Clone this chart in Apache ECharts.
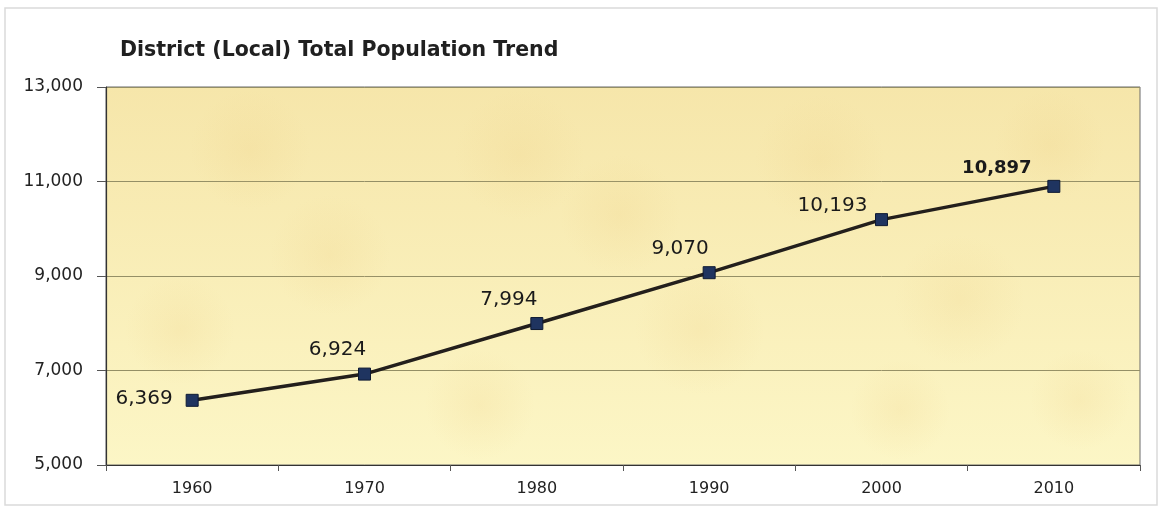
<!DOCTYPE html>
<html>
<head>
<meta charset="utf-8">
<style>
  html, body { margin: 0; padding: 0; background: #ffffff; }
  #chart { width: 1162px; height: 512px; }
</style>
<script src="https://cdn.jsdelivr.net/npm/echarts@6/dist/echarts.min.js"></script>
</head>
<body>
<div id="chart"></div>
<script>
// Census years and district population counts
const years = ['1960', '1970', '1980', '1990', '2000', '2010'];
const population = [6369, 6924, 7994, 9070, 10193, 10897];
const titleText = 'District (Local) Total Population Trend';

// Where each value label sits relative to its marker (px); the latest year is bold
const labelOffsets = [[-48, -2], [-27, -24], [-28, -24], [-29, -24], [-49, -14], [-57, -18]];

const fontFamily = '"DejaVu Sans", Verdana, sans-serif';
const fmt = v => Number(v).toLocaleString('en-US');

const chart = echarts.init(document.getElementById('chart'), null, { renderer: 'canvas' });

const seriesData = population.map((v, i) => {
  const last = i === population.length - 1;
  return {
    value: v,
    label: {
      show: true,
      position: 'inside',
      align: 'center',
      verticalAlign: 'middle',
      offset: labelOffsets[i],
      fontWeight: last ? 'bold' : 'normal',
      fontSize: last ? 18 : 20
    }
  };
});

// Soft warm patches giving the parchment-like plot backdrop (kept inside the plot frame)
const patches = [
  [250, 150, 60], [520, 155, 65], [820, 160, 65], [1050, 145, 55],
  [330, 255, 60], [700, 330, 65], [960, 300, 65], [180, 330, 55],
  [480, 405, 55], [900, 410, 50], [620, 215, 60], [1080, 400, 50]
].map(([cx, cy, r]) => ({
  type: 'circle',
  shape: { cx, cy, r },
  style: {
    fill: {
      type: 'radial', x: 0.5, y: 0.5, r: 0.5,
      colorStops: [
        { offset: 0, color: 'rgba(236, 200, 120, 0.16)' },
        { offset: 1, color: 'rgba(236, 200, 120, 0)' }
      ]
    }
  },
  silent: true,
  z: 1
}));

chart.setOption({
  backgroundColor: '#ffffff',
  animation: false,
  title: {
    text: titleText,
    left: 115,
    top: 35,
    textStyle: { fontFamily, fontSize: 20.5, fontWeight: 'bold', color: '#202020' }
  },
  graphic: [
    {
      type: 'rect',
      shape: { x: 5, y: 8, width: 1152, height: 497 },
      style: { fill: 'none', stroke: '#dadada', lineWidth: 1.5 },
      silent: true,
      z: -10
    }
  ].concat(patches),
  grid: {
    left: 106,
    right: 22,
    top: 87,
    bottom: 47,
    show: true,
    borderColor: '#6a6a6a',
    borderWidth: 1,
    backgroundColor: {
      type: 'linear', x: 0, y: 0, x2: 0, y2: 1,
      colorStops: [
        { offset: 0, color: '#f6e6aa' },
        { offset: 0.5, color: '#f9eeb8' },
        { offset: 1, color: '#fcf6c6' }
      ]
    }
  },
  xAxis: {
    type: 'category',
    data: years,
    boundaryGap: true,
    axisLine: { show: true, lineStyle: { color: '#333333', width: 1.2 } },
    axisTick: { show: true, length: 6, lineStyle: { color: '#555555' } },
    axisLabel: { fontFamily, fontSize: 16, color: '#222222', margin: 16 },
    splitLine: { show: false }
  },
  yAxis: {
    type: 'value',
    min: 5000,
    max: 13000,
    interval: 2000,
    axisLine: { show: true, lineStyle: { color: '#333333', width: 1.2 } },
    axisTick: { show: true, length: 9, lineStyle: { color: '#555555' } },
    axisLabel: {
      fontFamily, fontSize: 17, color: '#222222', margin: 23,
      formatter: fmt
    },
    splitLine: { show: true, lineStyle: { color: '#948f66', width: 1 } }
  },
  series: [
    {
      type: 'line',
      data: seriesData,
      symbol: 'rect',
      symbolSize: 12,
      lineStyle: { color: '#231f1c', width: 3.5 },
      itemStyle: { color: '#1f3460', borderColor: '#0e1a33', borderWidth: 1 },
      label: { fontFamily, color: '#1a1a1a', formatter: p => fmt(p.value) },
      z: 5
    }
  ]
});
</script>
</body>
</html>
